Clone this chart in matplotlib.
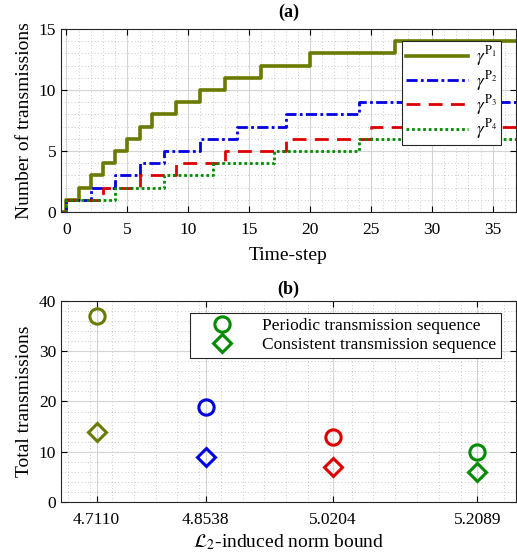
import numpy as np
import matplotlib.pyplot as plt
from matplotlib.ticker import MultipleLocator

plt.rcParams['font.family'] = ['Liberation Serif', 'DejaVu Serif']
plt.rcParams['mathtext.fontset'] = 'stix'

# Panel (a): time-steps at which each transmission happens
t_p1 = [0, 1, 2, 3, 4, 5, 6, 7, 9, 11, 13, 16, 20, 27]
t_p2 = [0, 2, 4, 6, 8, 11, 14, 18, 24]
t_p3 = [0, 3, 6, 9, 13, 18, 25]
t_p4 = [0, 4, 8, 12, 17, 24]
series_labels = [r'$\gamma^{\mathrm{P}_1}$', r'$\gamma^{\mathrm{P}_2}$',
                 r'$\gamma^{\mathrm{P}_3}$', r'$\gamma^{\mathrm{P}_4}$']

# Panel (b)
norm_bounds = [4.7110, 4.8538, 5.0204, 5.2089]
periodic_total = [37, 19, 13, 10]
consistent_total = [14, 9, 7, 6]

olive = '#6b7a00'
blue = '#0000e0'
red = '#dd0000'
green = '#008c00'
colors = [olive, blue, red, green]
styles = [dict(ls='-', lw=2.6),
          dict(ls=(0, (4, 1.2, 1, 1.2)), lw=2.0),
          dict(ls=(0, (5, 3)), lw=2.0),
          dict(ls=(0, (1, 1)), lw=2.0)]

fig = plt.figure(figsize=(5.17, 5.58), dpi=100)
ax1 = fig.add_axes([0.118, 0.620, 0.880, 0.328])
ax2 = fig.add_axes([0.118, 0.100, 0.880, 0.361])


def style_axes(ax):
    ax.grid(True, which='major', color='#d4d4d4', lw=0.8)
    ax.grid(True, which='minor', color='#b8b8b8', lw=0.6, ls=(0, (1, 3)))
    ax.set_axisbelow(True)
    ax.tick_params(which='both', direction='in', top=True, right=True, labelsize=12.5)
    ax.tick_params(which='minor', length=0)
    ax.tick_params(which='major', length=4)
    ax.tick_params(axis='x', pad=7)
    for s in ax.spines.values():
        s.set_color('#262626')
        s.set_linewidth(0.8)


# (a)
for times, c, st, lab in zip([t_p1, t_p2, t_p3, t_p4], colors, styles, series_labels):
    x = np.concatenate([[-1], times, [40]])
    y = np.concatenate([[0], np.arange(1, len(times) + 1), [len(times)]])
    ax1.step(x, y, where='post', color=c, label=lab, **st)

ax1.set_xlim(-0.45, 36.9)
ax1.set_ylim(0, 15)
ax1.xaxis.set_major_locator(MultipleLocator(5))
ax1.yaxis.set_major_locator(MultipleLocator(5))
ax1.xaxis.set_minor_locator(MultipleLocator(1))
ax1.yaxis.set_minor_locator(MultipleLocator(1))
style_axes(ax1)
ax1.set_xlabel('Time-step', fontsize=14, labelpad=7)
ax1.set_ylabel('Number of transmissions', fontsize=14, labelpad=4)
ax1.set_title('(a)', fontsize=13, fontweight='bold', pad=9)
leg1 = ax1.legend(loc='upper right', bbox_to_anchor=(0.967, 0.935), borderaxespad=0,
                  fontsize=12.5, handlelength=3.6, handletextpad=0.45, borderpad=0.2,
                  labelspacing=0.02, fancybox=False, framealpha=1, edgecolor='#262626')
leg1.get_frame().set_linewidth(0.8)

# (b)
for xb, p, cns, c in zip(norm_bounds, periodic_total, consistent_total, colors):
    ax2.plot(xb, p, 'o', ms=11, mfc='none', mec=c, mew=2.2)
    ax2.plot(xb, cns, 'D', ms=9.5, mfc='none', mec=c, mew=2.2)
ax2.plot([], [], 'o', ms=11, mfc='none', mec=green, mew=2.2,
         label='Periodic transmission sequence')
ax2.plot([], [], 'D', ms=9.5, mfc='none', mec=green, mew=2.2,
         label='Consistent transmission sequence')

ax2.set_xlim(4.6644, 5.2594)
ax2.set_ylim(0, 40)
ax2.set_xticks(norm_bounds)
ax2.set_xticklabels(['%.4f' % v for v in norm_bounds])
ax2.xaxis.set_minor_locator(MultipleLocator(0.0285))
ax2.yaxis.set_major_locator(MultipleLocator(10))
ax2.yaxis.set_minor_locator(MultipleLocator(2))
style_axes(ax2)
ax2.set_xlabel(r'$\mathcal{L}_2$-induced norm bound', fontsize=14, labelpad=3)
ax2.set_ylabel('Total transmissions', fontsize=14, labelpad=4)
ax2.set_title('(b)', fontsize=13, fontweight='bold', pad=5)
leg2 = ax2.legend(loc='upper right', bbox_to_anchor=(0.967, 0.94), borderaxespad=0,
                  fontsize=12.5, handlelength=3.0, handletextpad=0.8, borderpad=0.3,
                  labelspacing=0.15, fancybox=False, framealpha=1, edgecolor='#262626')
leg2.get_frame().set_linewidth(0.8)

fig.savefig('out.png', dpi=100)
